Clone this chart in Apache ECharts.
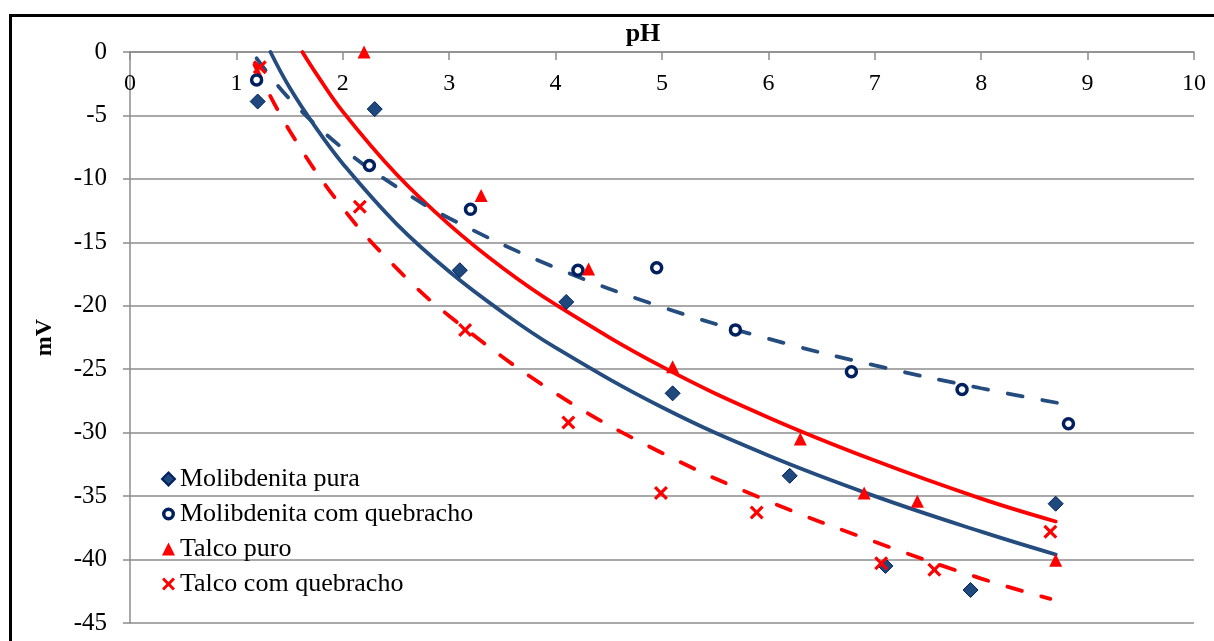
<!DOCTYPE html>
<html>
<head>
<meta charset="utf-8">
<script src="https://cdn.jsdelivr.net/npm/echarts@6/dist/echarts.min.js"></script>
<style>
html,body{margin:0;padding:0;background:#fff}
#chart{width:1214px;height:641px}
</style>
</head>
<body>
<div id="chart"></div>
<script>
// measured points [pH, mV]
var molPura = [[1.2,-3.9],[2.3,-4.5],[3.1,-17.2],[4.1,-19.7],[5.1,-26.9],[6.2,-33.4],[7.1,-40.5],[7.9,-42.4],[8.7,-35.6]];
var molQueb = [[1.19,-2.2],[2.25,-8.95],[3.2,-12.4],[4.21,-17.2],[4.95,-17.0],[5.69,-21.9],[6.78,-25.2],[7.82,-26.6],[8.82,-29.3]];
var talcoPuro = [[2.2,0],[3.3,-11.3],[4.31,-17.1],[5.1,-24.8],[6.3,-30.5],[6.9,-34.75],[7.4,-35.4],[8.7,-40.05]];
var talcoQueb = [[1.22,-1.2],[2.16,-12.2],[3.15,-21.9],[4.12,-29.2],[4.99,-34.75],[5.89,-36.3],[7.06,-40.3],[7.56,-40.8],[8.65,-37.8]];

// trend lines at regular pH steps
var trendMolPura = [[1.32,0],[1.5,-2.8],[1.75,-6.0],[2,-8.8],[2.5,-13.5],[3,-17.3],[3.5,-20.5],[4,-23.3],[5,-28.0],[6,-31.8],[7,-35.0],[8,-37.8],[8.7,-39.6]];
var trendTalcoPuro = [[1.62,0],[1.75,-1.7],[2,-4.7],[2.5,-9.6],[3,-13.6],[3.5,-17.0],[4,-19.9],[5,-24.8],[6,-28.8],[7,-32.2],[8,-35.2],[8.7,-37.0]];
var trendMolQueb = [[1.19,-0.5],[1.5,-3.7],[2,-7.6],[2.5,-10.6],[3,-13.1],[4,-17.0],[5,-20.1],[6,-22.6],[7,-24.7],[8,-26.5],[8.75,-27.7]];
var trendTalcoQueb = [[1.17,-1.0],[1.5,-6.2],[2,-12.3],[2.5,-17.0],[3,-20.8],[4,-26.9],[5,-31.6],[6,-35.4],[7,-38.6],[8,-41.5],[8.65,-43.1]];

var names = ['Molibdenita pura','Molibdenita com quebracho','Talco puro','Talco com quebracho'];

var font = '"Liberation Serif","Times New Roman",serif';
var blue = '#1F497D', navy = '#002060', red = '#FF0000', trendBlue = '#244C7E', axisGray = '#8C8C8C';
var xPath = 'path://M0,1.6L1.6,0L5,3.4L8.4,0L10,1.6L6.6,5L10,8.4L8.4,10L5,6.6L1.6,10L0,8.4L3.4,5Z';
var ringPath = 'path://M6,0A6,6 0 1,1 6,12A6,6 0 1,1 6,0ZM6,3.2A2.8,2.8 0 1,0 6,8.8A2.8,2.8 0 1,0 6,3.2Z';

function trend(data, color, dashed) {
  return {
    type: 'line', data: data, smooth: 0.4, symbol: 'none', silent: true, z: 2,
    lineStyle: {color: color, width: 3.8, type: dashed ? [15, 20] : 'solid', cap: 'round'}
  };
}

var chart = echarts.init(document.getElementById('chart'));
chart.setOption({
  animation: false,
  backgroundColor: '#fff',
  textStyle: {fontFamily: font},
  graphic: [{
    type: 'rect', left: 8, top: 13, z: 100,
    shape: {x: 0, y: 0, width: 1240, height: 660},
    style: {fill: 'none', stroke: '#000', lineWidth: 3}
  }],
  grid: {left: 130, right: 20, top: 52, bottom: 18},
  legend: {
    data: [
      {name: names[0]},
      {name: names[1], icon: ringPath, itemStyle: {color: navy, borderWidth: 0}},
      {name: names[2]},
      {name: names[3]}
    ],
    orient: 'vertical', left: 156, top: 461,
    itemWidth: 13, itemHeight: 13, itemGap: 9,
    textStyle: {fontFamily: font, fontSize: 26, color: '#000', lineHeight: 26}
  },
  xAxis: {
    type: 'value', position: 'top', min: 0, max: 10, interval: 1,
    name: 'pH', nameLocation: 'middle', nameGap: 2,
    nameTextStyle: {fontFamily: font, fontSize: 26, fontWeight: 'bold', color: '#000', padding: [8, 38, 0, 0]},
    axisLine: {lineStyle: {color: axisGray, width: 1.5}},
    axisTick: {inside: true, length: 8, lineStyle: {color: axisGray, width: 1.5}},
    axisLabel: {inside: true, margin: 20, fontFamily: font, fontSize: 24, color: '#000'},
    splitLine: {show: false}
  },
  yAxis: {
    type: 'value', min: -45, max: 0, interval: 5,
    name: 'mV', nameLocation: 'middle', nameGap: 73,
    nameTextStyle: {fontFamily: font, fontSize: 24, fontWeight: 'bold', color: '#000'},
    axisLine: {show: true, lineStyle: {color: axisGray, width: 1.5}},
    axisTick: {show: true, length: 7, lineStyle: {color: axisGray, width: 1.5}},
    axisLabel: {margin: 23, fontFamily: font, fontSize: 25, color: '#000'},
    splitLine: {lineStyle: {color: axisGray, width: 1.5}}
  },
  series: [
    trend(trendMolPura, trendBlue, false),
    trend(trendTalcoPuro, red, false),
    trend(trendMolQueb, trendBlue, true),
    trend(trendTalcoQueb, red, true),
    {name: names[0], type: 'scatter', data: molPura, symbol: 'diamond', symbolSize: 15, z: 5,
      itemStyle: {color: blue, borderColor: navy, borderWidth: 1, opacity: 1}},
    {name: names[1], type: 'scatter', data: molQueb, symbol: 'circle', symbolSize: 10, z: 5,
      itemStyle: {color: '#fff', borderColor: navy, borderWidth: 3.5, opacity: 1}},
    {name: names[2], type: 'scatter', data: talcoPuro, symbol: 'triangle', symbolSize: 13, z: 5,
      itemStyle: {color: red, opacity: 1}},
    {name: names[3], type: 'scatter', data: talcoQueb, symbol: xPath, symbolSize: 14, z: 5,
      itemStyle: {color: red, opacity: 1}}
  ]
});
</script>
</body>
</html>
